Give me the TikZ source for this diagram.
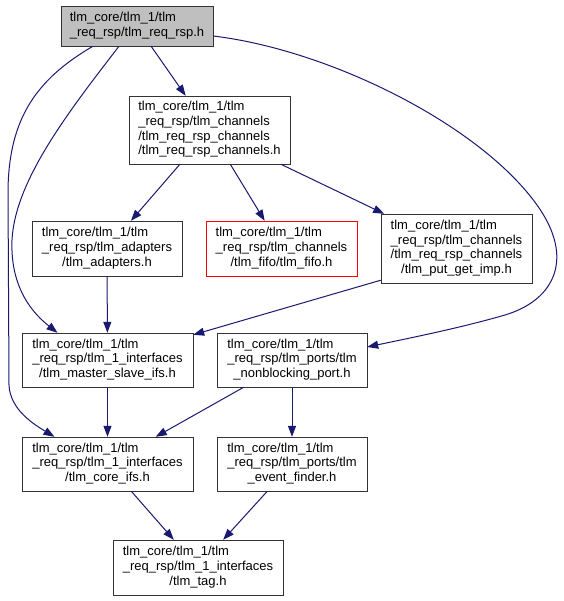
\documentclass[tikz,border=0pt]{standalone}
\usepackage{fontspec}
\setmainfont{Liberation Sans}
\usetikzlibrary{arrows.meta}
\definecolor{edgeblue}{RGB}{25,25,112}
\definecolor{rootgray}{RGB}{191,191,191}
\definecolor{missred}{RGB}{255,0,0}
\newcommand{\flabel}[2]{\begin{tabular}{@{}l@{}}#1\\\multicolumn{1}{@{}c@{}}{#2}\end{tabular}}

\begin{document}
\begin{tikzpicture}[x=1pt,y=-1pt,
		file/.style={draw=black!80,fill=white,inner sep=0pt,font=\fontsize{13}{14.7}\selectfont},
		rootfile/.style={file,fill=rootgray},
		missfile/.style={file,draw=missred},
		dep/.style={draw=edgeblue,line width=1pt,-{Triangle[length=11pt,width=8pt]}}]
		%%%%% START %%%%%
		\useasboundingbox (0,0) rectangle (563,601);
		
		\node[rootfile, minimum width=152pt, minimum height=40pt] (reqrsp) at (137,26) {\flabel{tlm\_core/tlm\_1/tlm}{\_req\_rsp/tlm\_req\_rsp.h}};
		\node[file, minimum width=161pt, minimum height=68pt] (channels) at (209.5,130) {\flabel{tlm\_core/tlm\_1/tlm\\\_req\_rsp/tlm\_channels\\/tlm\_req\_rsp\_channels}{/tlm\_req\_rsp\_channels.h}};
		
		\node[file, minimum width=150pt, minimum height=55pt] (adapters) at (107,248.5) {\flabel{tlm\_core/tlm\_1/tlm\\\_req\_rsp/tlm\_adapters}{/tlm\_adapters.h}};
		\node[missfile, minimum width=151pt, minimum height=55pt] (fifo) at (281.5,248.5) {\flabel{tlm\_core/tlm\_1/tlm\\\_req\_rsp/tlm\_channels}{/tlm\_fifo/tlm\_fifo.h}};
		\node[file, minimum width=151pt, minimum height=69pt] (putget) at (456.5,248.5) {\flabel{tlm\_core/tlm\_1/tlm\\\_req\_rsp/tlm\_channels\\/tlm\_req\_rsp\_channels}{/tlm\_put\_get\_imp.h}};
		
		\node[file, minimum width=171pt, minimum height=54pt] (masterslave) at (107.5,360) {\flabel{tlm\_core/tlm\_1/tlm\\\_req\_rsp/tlm\_1\_interfaces}{/tlm\_master\_slave\_ifs.h}};
		\node[file, minimum width=150pt, minimum height=54pt] (nonblocking) at (292,360) {\flabel{tlm\_core/tlm\_1/tlm\\\_req\_rsp/tlm\_ports/tlm}{\_nonblocking\_port.h}};
		
		\node[file, minimum width=171pt, minimum height=54pt] (coreifs) at (107.5,464) {\flabel{tlm\_core/tlm\_1/tlm\\\_req\_rsp/tlm\_1\_interfaces}{/tlm\_core\_ifs.h}};
		\node[file, minimum width=150pt, minimum height=54pt] (eventfinder) at (292,464) {\flabel{tlm\_core/tlm\_1/tlm\\\_req\_rsp/tlm\_ports/tlm}{\_event\_finder.h}};
		
		\node[file, minimum width=170pt, minimum height=55pt] (tag) at (198,567.5) {\flabel{tlm\_core/tlm\_1/tlm\\\_req\_rsp/tlm\_1\_interfaces}{/tlm\_tag.h}};
		
		\draw[dep] (reqrsp) -- (channels);
		\draw[dep] ([yshift=-10pt]reqrsp.east) .. controls (330,50) and (480,125) .. (537,205) .. controls (575,258) and (555,300) .. (505,315) .. controls (460,328) and (410,338) .. ([yshift=13pt]nonblocking.east);
		\draw[dep] ([xshift=-18pt]reqrsp.south) .. controls (70,110) and (15,180) .. (12,240) .. controls (10,290) and (35,315) .. ([xshift=-50pt]masterslave.north);
		\draw[dep] ([xshift=-44pt]reqrsp.south) .. controls (35,80) and (9,120) .. (8,190) -- (9,385) .. controls (10,410) and (35,425) .. ([xshift=-53pt]coreifs.north);
		
		\draw[dep] (channels) -- (adapters);
		\draw[dep] (channels) -- (fifo);
		\draw[dep] (channels) -- (putget);
		
		\draw[dep] (adapters) -- (masterslave);
		\draw[dep] ([yshift=3pt]putget.south west) -- ([yshift=-2pt]masterslave.north east);
		
		\draw[dep] (masterslave) -- (coreifs);
		\draw[dep] (nonblocking) -- (coreifs);
		\draw[dep] (nonblocking) -- (eventfinder);
		
		\draw[dep] (coreifs) -- (tag);
		\draw[dep] (eventfinder) -- (tag);
		%%%%% END %%%%%
	\end{tikzpicture}
\end{document}
